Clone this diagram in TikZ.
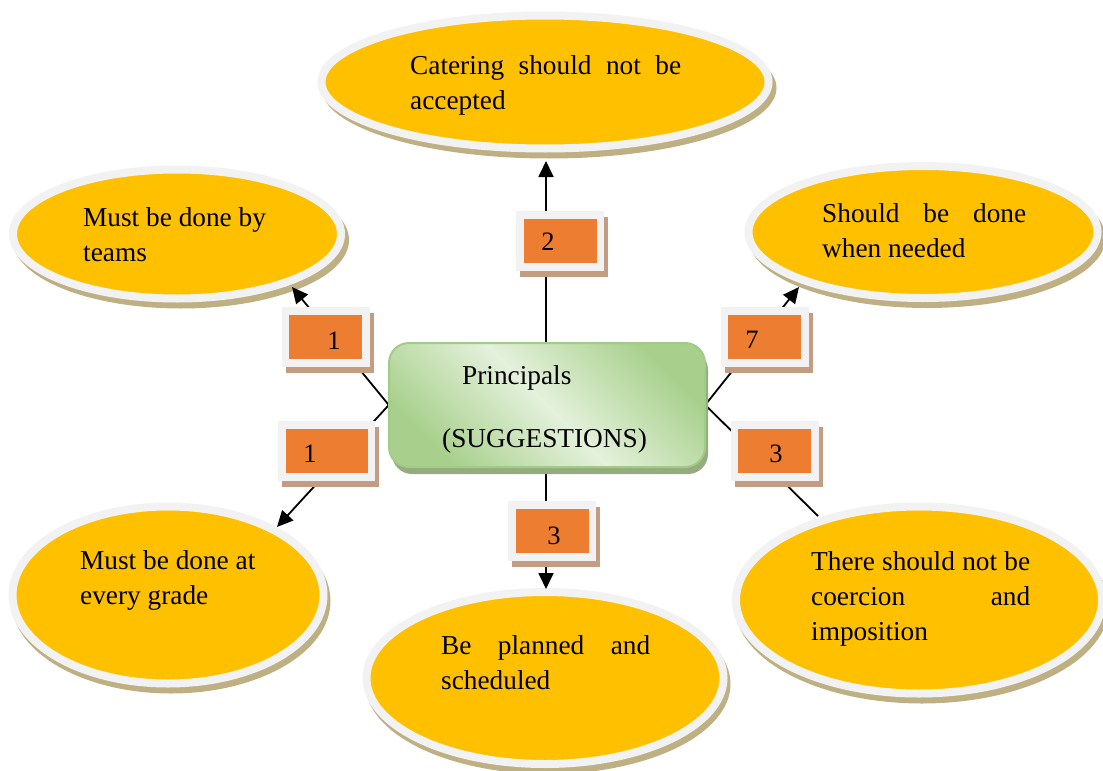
\documentclass[tikz,border=0pt]{standalone}
\usepackage{fontspec}
\setmainfont{Liberation Serif}
\usetikzlibrary{arrows.meta,shapes.geometric}
\definecolor{ellyellow}{HTML}{FFC000}
\definecolor{ringgrey}{HTML}{F2F2F2}
\definecolor{ellshadow}{RGB}{191,176,131}
\definecolor{boxshadow}{RGB}{196,156,130}
\definecolor{labelorange}{HTML}{ED7D31}
\definecolor{boxgreen}{RGB}{168,208,140}
\definecolor{boxlight}{RGB}{228,241,220}
\definecolor{boxborder}{RGB}{160,204,134}
\definecolor{boxdrop}{RGB}{150,172,128}
\newcommand\jline[2]{\makebox[#1][s]{#2}}
\begin{document}
\begin{tikzpicture}[x=1pt,y=-1pt,
  txt/.style={font=\fontsize{27.3}{35}\selectfont, inner sep=0pt, anchor=base west},
  bubble/.style={ellipse, fill=ellyellow, draw=ringgrey, line width=8pt, inner sep=0pt},
  bubshadow/.style={ellipse, fill=ellshadow, inner sep=0pt},
  tagouter/.style={rectangle, fill=ringgrey, inner sep=0pt, minimum height=60pt},
  tagshadow/.style={rectangle, fill=boxshadow, inner sep=0pt, minimum height=60pt},
  taginner/.style={rectangle, fill=labelorange, inner sep=0pt, minimum height=44pt},
  digit/.style={font=\fontsize{26.5}{30}\selectfont, inner sep=0pt},
  conn/.style={line width=1.8pt, black},
  arr/.style={conn, -{Triangle[length=16pt,width=15pt]}}
]
\useasboundingbox (0,0) rectangle (1103,771);
\clip (0,0) rectangle (1103,771);

% ---- ellipses: shadow, ring + yellow
\node[bubshadow, minimum width=455pt, minimum height=141pt] (topS) at (549,88) {};
\node[bubble, minimum width=447pt, minimum height=133pt] (top) at (545,82) {};

\node[bubshadow, minimum width=336pt, minimum height=137pt] (tlS) at (181,240) {};
\node[bubble, minimum width=328pt, minimum height=129pt] (tl) at (177,234) {};

\node[bubshadow, minimum width=357pt, minimum height=140pt] (trS) at (927,238) {};
\node[bubble, minimum width=349pt, minimum height=132pt] (tr) at (923,232) {};

\node[bubshadow, minimum width=319pt, minimum height=185pt] (blS) at (171,601) {};
\node[bubble, minimum width=311pt, minimum height=177pt] (bl) at (168,595) {};

\node[bubshadow, minimum width=365pt, minimum height=180pt] (bcS) at (548,684) {};
\node[bubble, minimum width=357pt, minimum height=172pt] (bc) at (545,678) {};

\node[bubshadow, minimum width=374pt, minimum height=195pt] (brS) at (922,606) {};
\node[bubble, minimum width=366pt, minimum height=187pt] (br) at (919,600) {};

% ---- ellipse texts
\node[txt] (topT) at (410,74) {\parbox[t]{300pt}{\jline{271pt}{Catering should not be}\\accepted}};
\node[txt] (tlT) at (83,226) {\parbox[t]{300pt}{Must be done by\\teams}};
\node[txt] (trT) at (822,222) {\parbox[t]{300pt}{\jline{204pt}{Should be done}\\when needed}};
\node[txt] (blT) at (80,569) {\parbox[t]{300pt}{Must be done at\\every grade}};
\node[txt] (bcT) at (441,654) {\parbox[t]{300pt}{\jline{209pt}{Be planned and}\\scheduled}};
\node[txt] (brT) at (811,570) {\parbox[t]{300pt}{\jline{219pt}{There should not be}\\\jline{219pt}{coercion and}\\imposition}};

% ---- central box (position only, for anchors)
\node[rectangle, minimum width=316pt, minimum height=124pt, inner sep=0pt] (ctr) at (547,405) {};

% ---- connector end points
\coordinate (topTip) at (546,161);
\coordinate (tlTip) at (292,287);
\coordinate (trTip) at (799,287);
\coordinate (blTip) at (277,527);
\coordinate (bcTip) at (546,589);
\coordinate (brEnd) at (818,516);

\draw[arr] (ctr.north -| topTip) -- (topTip);
\draw[arr] (ctr.south -| bcTip) -- (bcTip);
\draw[arr] (ctr.west) -- (tlTip);
\draw[arr] (ctr.west) -- (blTip);
\draw[arr] (ctr.east) -- (trTip);
\draw[conn] (ctr.east) -- (brEnd);

% ---- central box drawing
\node[rectangle, rounded corners=20pt, fill=boxdrop, minimum width=316pt, minimum height=124pt] (ctrS) at (550,412) {};
\node[rectangle, rounded corners=20pt, draw=boxborder, line width=2pt,
      top color=boxgreen, bottom color=boxgreen, middle color=boxlight, shading angle=-45,
      minimum width=316pt, minimum height=124pt] (ctrBox) at (547,405) {};
\node[txt] (ctrT1) at (462,384) {Principals};
\node[txt] (ctrT2) at (442,447) {(SUGGESTIONS)};

% ---- number tags
% top-left 1
\node[tagshadow, minimum width=88pt] (t1S) at (330,343) {};
\node[tagouter, minimum width=88pt] (t1O) at (326,337) {};
\node[taginner, minimum width=73pt] (t1I) at (325.5,337) {};
\node[digit] (t1D) at (334,341) {1};
% bottom-left 1
\node[tagshadow, minimum width=97pt] (t2S) at (330,457) {};
\node[tagouter, minimum width=97pt] (t2O) at (326,451) {};
\node[taginner, minimum width=82pt] (t2I) at (327,451) {};
\node[digit] (t2D) at (310,454) {1};
% top-right 7
\node[tagshadow, minimum width=88pt] (t3S) at (769,343) {};
\node[tagouter, minimum width=88pt] (t3O) at (765,337) {};
\node[taginner, minimum width=73pt] (t3I) at (764.5,337) {};
\node[digit] (t3D) at (752,340) {7};
% right 3
\node[tagshadow, minimum width=88pt] (t4S) at (779,457) {};
\node[tagouter, minimum width=88pt] (t4O) at (775,451) {};
\node[taginner, minimum width=73pt] (t4I) at (774.5,451) {};
\node[digit] (t4D) at (776,454) {3};
% top 2
\node[tagshadow, minimum width=88pt] (t5S) at (564,247) {};
\node[tagouter, minimum width=88pt] (t5O) at (560,241) {};
\node[taginner, minimum width=73pt] (t5I) at (560,241) {};
\node[digit] (t5D) at (548,242) {2};
% bottom 3
\node[tagshadow, minimum width=88pt] (t6S) at (556,537) {};
\node[tagouter, minimum width=88pt] (t6O) at (552,531) {};
\node[taginner, minimum width=73pt] (t6I) at (552.5,531) {};
\node[digit] (t6D) at (554,536) {3};
\end{tikzpicture}
\end{document}
